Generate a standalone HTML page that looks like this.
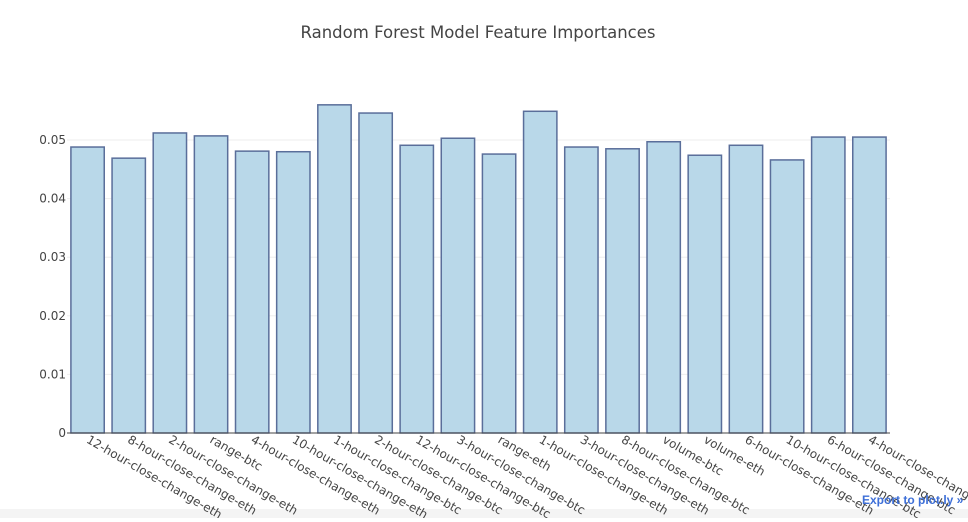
<!DOCTYPE html>
<html><head><meta charset="utf-8"><style>
body{margin:0;background:#fff;width:968px;height:518px;overflow:hidden;font-family:"DejaVu Sans","Liberation Sans",sans-serif}
</style></head><body>
<svg width="968" height="518" id="svg" xmlns="http://www.w3.org/2000/svg" font-family="DejaVu Sans, Liberation Sans, sans-serif">
<rect x="0" y="509" width="968" height="9" fill="#f4f4f4"/>
<text x="478" y="38" text-anchor="middle" font-size="16.5" fill="#444">Random Forest Model Feature Importances</text>
<g id="grid"></g><g id="bars"></g><g id="labels"></g>
<line x1="67" y1="433" x2="890" y2="433" stroke="#444" stroke-width="1"/>
<text x="862" y="504" font-size="12" font-weight="bold" fill="#3d6fd8" font-family="Liberation Sans, sans-serif">Export to plot.ly »</text>
</svg>
<script>
const categories=["12-hour-close-change-eth","8-hour-close-change-eth","2-hour-close-change-eth","range-btc","4-hour-close-change-eth","10-hour-close-change-eth","1-hour-close-change-btc","2-hour-close-change-btc","12-hour-close-change-btc","3-hour-close-change-btc","range-eth","1-hour-close-change-eth","3-hour-close-change-eth","8-hour-close-change-btc","volume-btc","volume-eth","6-hour-close-change-eth","10-hour-close-change-btc","6-hour-close-change-btc","4-hour-close-change-btc"];
const values=[0.0488,0.0469,0.0512,0.0507,0.0481,0.0480,0.0560,0.0546,0.0491,0.0503,0.0476,0.0549,0.0488,0.0485,0.0497,0.0474,0.0491,0.0466,0.0505,0.0505];
const ticks=[0,0.01,0.02,0.03,0.04,0.05];
const tickLabels=["0","0.01","0.02","0.03","0.04","0.05"];
const NS="http://www.w3.org/2000/svg";
const x0=67,x1=890,yBase=433,perUnit=5860;
const y=v=>yBase-v*perUnit;
const step=(x1-x0)/categories.length;
const xc=i=>x0+step*(i+0.5);
const grid=document.getElementById('grid'),bars=document.getElementById('bars'),labels=document.getElementById('labels');
ticks.forEach((t,i)=>{
 if(t>0){const l=document.createElementNS(NS,'line');
 l.setAttribute('x1',x0);l.setAttribute('x2',x1);l.setAttribute('y1',y(t));l.setAttribute('y2',y(t));
 l.setAttribute('stroke','#eee');
 
 
 grid.appendChild(l);}
 const tx=document.createElementNS(NS,'text');
 tx.setAttribute('x',x0-1);tx.setAttribute('y',y(t)+4);tx.setAttribute('text-anchor','end');
 tx.setAttribute('font-size','12');tx.setAttribute('fill','#444');tx.textContent=tickLabels[i];
 
 
 grid.appendChild(tx);
});
categories.forEach((c,i)=>{
 const w=step*0.81;
 const r=document.createElementNS(NS,'rect');
 r.setAttribute('x',xc(i)-w/2);r.setAttribute('y',y(values[i]));r.setAttribute('width',w);r.setAttribute('height',yBase-y(values[i]));
 r.setAttribute('fill','#b9d8e9');r.setAttribute('stroke','#5a6e9a');r.setAttribute('stroke-width','1.5');
 
 
 bars.appendChild(r);
 const t=document.createElementNS(NS,'text');
 const tx=xc(i)-2,ty=yBase+9;
 t.setAttribute('x',tx);t.setAttribute('y',ty);t.setAttribute('font-size','12');t.setAttribute('fill','#444');
 t.setAttribute('transform','rotate(30 '+tx+' '+ty+')');t.textContent=c;
 
 
 labels.appendChild(t);
});
</script>
</body></html>
